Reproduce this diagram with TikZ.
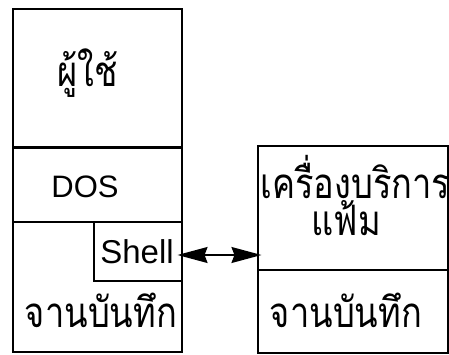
\documentclass[tikz,border=0pt]{standalone}
\usepackage{fontspec}
\setmainfont{Liberation Sans}
\newfontfamily\thaifont[Script=Thai]{Loma}
\usetikzlibrary{arrows.meta}
\newcommand{\thtext}[1]{\scalebox{0.82}[1]{\thaifont\fontsize{42}{48}\selectfont #1}}
\tikzset{
  box/.style={draw, line width=1.1pt, inner sep=0pt, anchor=center},
  lat/.style={inner sep=0pt, anchor=base},
  th/.style={inner sep=0pt, anchor=base},
  big/.style={arrows={Stealth[length=30pt,width=16pt,inset=3pt]-Stealth[length=30pt,width=16pt,inset=3pt]}},
}
\begin{document}
\begin{tikzpicture}[x=1pt,y=-1pt]
\useasboundingbox (0,0) rectangle (449,355);
% left stack
\node[box, minimum width=169pt, minimum height=138pt] (user) at (97.5,78) {};
\node[box, minimum width=169pt, minimum height=75pt] (dos) at (97.5,184.5) {};
\node[box, minimum width=169pt, minimum height=130pt] (disk) at (97.5,287) {};
\node[box, minimum width=88pt, minimum height=59pt] (shell) at (138,251.5) {};
\draw[line width=2.2pt] (user.south west) -- (user.south east);
% right stack
\node[box, minimum width=190pt, minimum height=124pt] (server) at (353,208) {};
\node[box, minimum width=190pt, minimum height=83pt] (disk2) at (353,311.5) {};
% texts
\node[th] (tuser) at (88,87) {\thtext{ผู้ใช้}};
\node[lat, font=\fontsize{31}{34}\selectfont] (tdos) at (85,197) {DOS};
\node[lat, font=\fontsize{33}{36}\selectfont] (tshell) at (137,263) {Shell};
\node[th] (tdisk) at (101,327) {\thtext{จานบันทึก}};
\node[th] (tserver) at (355.5,235) {\scalebox{0.82}[1]{\thaifont\fontsize{42}{36}\selectfont\vbox{\lineskiplimit=-100pt\hbox{เครื่องบริการ}\hbox{\hspace*{62pt}แฟ้ม}}}};
\node[th] (tdisk2) at (346,327) {\thtext{จานบันทึก}};
% arrow
\coordinate (a1) at (shell.east |- 0,255);
\coordinate (a2) at (server.west |- 0,255);
\draw[line width=1.4pt, big] ([xshift=-5pt]a1) -- ([xshift=4pt]a2);
\end{tikzpicture}
\end{document}
